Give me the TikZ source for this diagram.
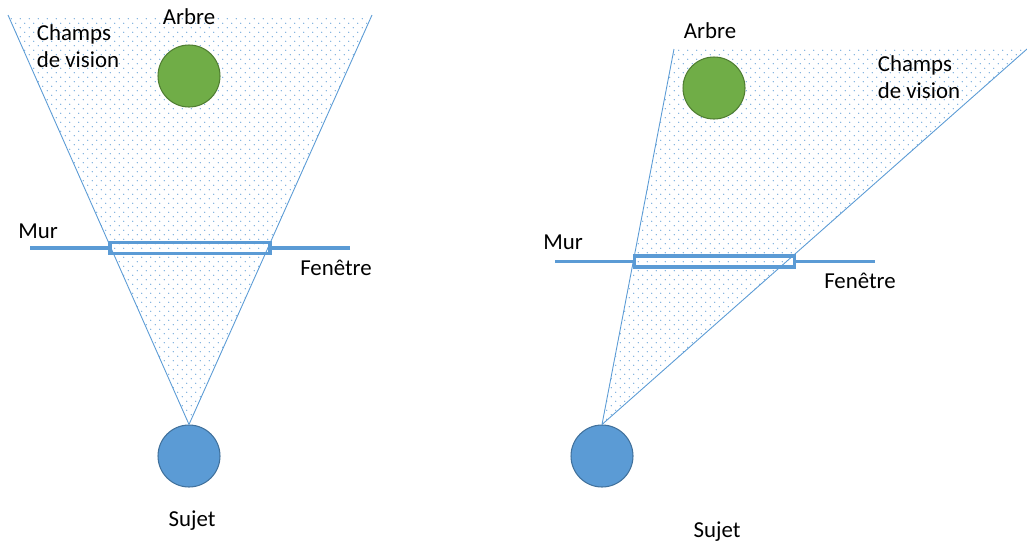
\documentclass[tikz,border=0pt]{standalone}
\usepackage{fontspec}
\setmainfont{Carlito}
\usetikzlibrary{patterns.meta}
\definecolor{bleu}{HTML}{5B9BD5}
\definecolor{bleufonce}{HTML}{41719C}
\definecolor{vert}{HTML}{70AD47}
\definecolor{vertfonce}{HTML}{507E32}
\tikzdeclarepattern{name=points, type=uncolored,
  bounding box={(0pt,0pt) and (5.1pt,5.1pt)},
  tile size={(5.1pt,5.1pt)},
  code={\fill (1.275pt,1.275pt) circle (0.35pt);
        \fill (3.825pt,3.825pt) circle (0.35pt);}}
\tikzstyle{sujet} = [circle, minimum size=1.24cm, inner sep=0pt, fill=bleu, draw=bleufonce, line width=0.6pt]
\tikzstyle{arbre} = [circle, minimum size=1.24cm, inner sep=0pt, fill=vert, draw=vertfonce, line width=0.6pt]
\tikzstyle{champ} = [pattern=points, pattern color=bleu]
\tikzstyle{bord} = [draw=bleu, line width=0.5pt]
\tikzstyle{mur} = [draw=bleu, line width=2.2pt]
\tikzstyle{fenetre} = [rectangle, draw=bleu, line width=1.8pt, minimum width=3.2cm, minimum height=0.22cm, inner sep=0pt]
\tikzstyle{txt} = [font=\fontsize{13}{15.5}\selectfont, align=left, inner sep=0pt]

\begin{document}
\begin{tikzpicture}[x=0.02cm, y=-0.02cm]
\useasboundingbox (0,0) rectangle (1027,542);

% vue de face
\node (sujetA) [sujet] at (189,456) {};
\coordinate (champA1) at (8,15);
\coordinate (champA2) at (372,15);
\fill [champ] (sujetA.north) -- (champA1) -- (champA2) -- cycle;
\draw [bord] (sujetA.north) -- (champA1);
\draw [bord] (sujetA.north) -- (champA2);
\node (arbreA) [arbre] at (189,76) {};
\node (fenA) [fenetre] at (190,248) {};
\coordinate (murA1) at (30,248);
\coordinate (murA2) at (350,248);
\draw [mur] (murA1) -- (fenA.west);
\draw [mur] (fenA.east) -- (murA2);
\node (tArbreA) [txt] at (189,17) {Arbre};
\node (tChampA) [txt] at (78,46) {Champs\\de vision};
\node (tMurA) [txt] at (38,231) {Mur};
\node (tFenA) [txt] at (336,268) {Fenêtre};
\node (tSujetA) [txt] at (192,521) {Sujet};

% vue de biais
\node (sujetB) [sujet] at (602,456) {};
\coordinate (champB1) at (674,49);
\coordinate (champB2) at (1027,49);
\fill [champ] (sujetB.north) -- (champB1) -- (champB2) -- cycle;
\draw [bord] (sujetB.north) -- (champB1);
\draw [bord] (sujetB.north) -- (champB2);
\node (arbreB) [arbre] at (714,88) {};
\node (fenB) [fenetre] at (714.5,261.5) {};
\coordinate (murB1) at (555,261.5);
\coordinate (murB2) at (875,261.5);
\draw [mur] (murB1) -- (fenB.west);
\draw [mur] (fenB.east) -- (murB2);
\node (tArbreB) [txt] at (710,31) {Arbre};
\node (tChampB) [txt] at (919,77) {Champs\\de vision};
\node (tMurB) [txt] at (563,242) {Mur};
\node (tFenB) [txt] at (860,281) {Fenêtre};
\node (tSujetB) [txt] at (717,532) {Sujet};
\end{tikzpicture}
\end{document}
